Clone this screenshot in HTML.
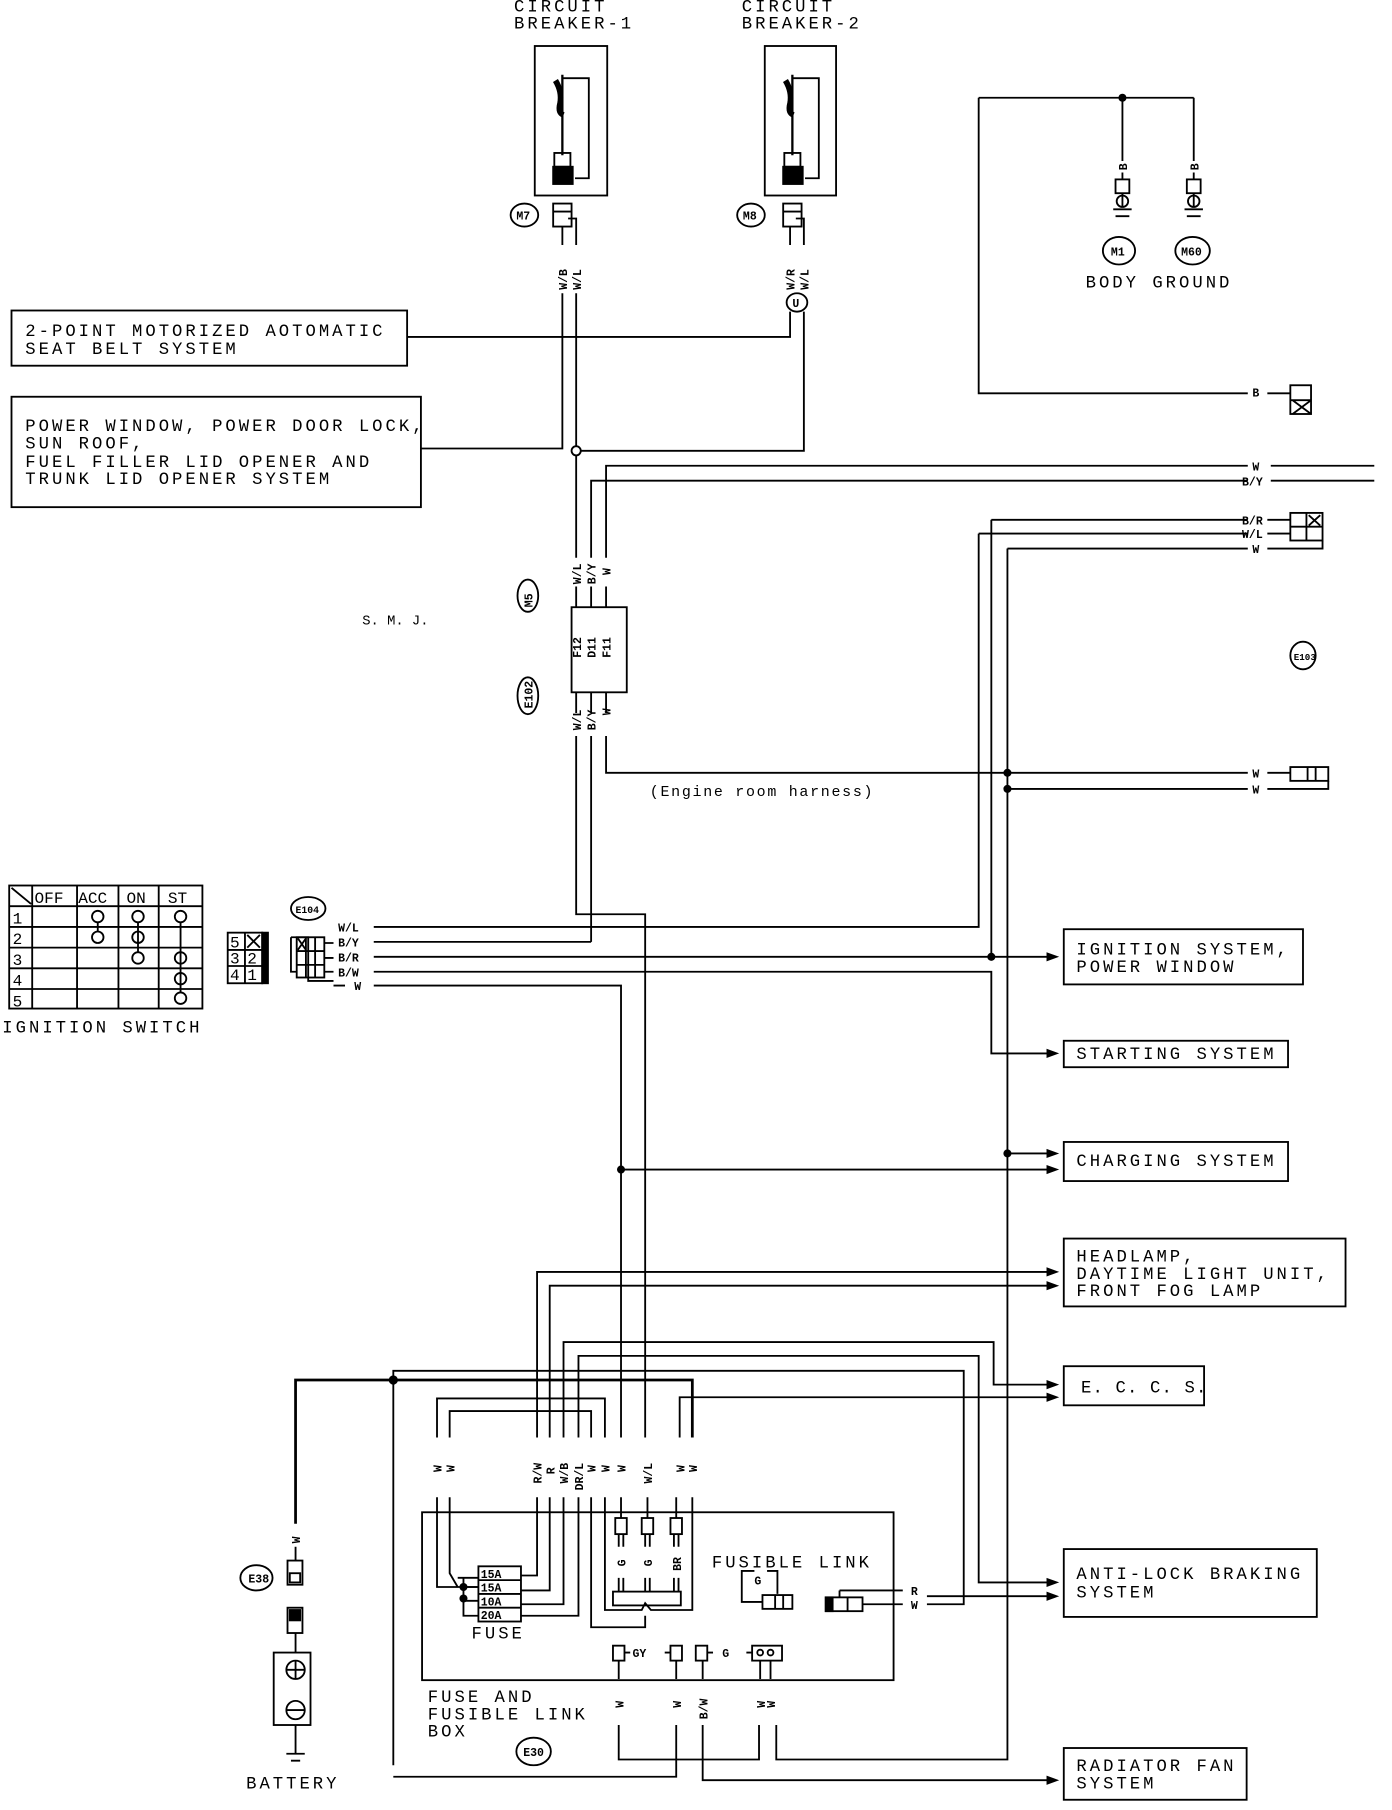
<!DOCTYPE html>
<html><head><meta charset="utf-8"><style>
html,body{margin:0;padding:0;background:#fff}
svg{display:block}
text{font-family:"Liberation Mono","DejaVu Sans Mono",monospace;fill:#000}
.t{font-size:15px;letter-spacing:2.6px}
.s{font-size:10px;font-weight:bold}
</style></head><body>
<svg width="1392" height="1810" viewBox="0 0 1210.4 1573.9" preserveAspectRatio="none" xmlns="http://www.w3.org/2000/svg">
<g fill="none" stroke="#000" stroke-width="1.6">
<rect x="465" y="40" width="63" height="130"/>
<rect x="665" y="40" width="62" height="130"/>
<path d="M489 68 H512 V155 H500"/><path d="M689 68 H712 V155 H700"/>
<path d="M489 65 V135" stroke-width="2"/><path d="M689 65 V135" stroke-width="2"/>
<path d="M483 70 Q489 80 487 90 Q485 98 490 100" stroke-width="5"/>
<path d="M683 70 Q689 80 687 90 Q685 98 690 100" stroke-width="5"/>
<rect x="482" y="133" width="14" height="12"/><rect x="682" y="133" width="14" height="12"/>
<rect x="481" y="145" width="17" height="15" fill="#000"/><rect x="681" y="145" width="17" height="15" fill="#000"/>
<rect x="481" y="177" width="16" height="20"/><line x1="481" y1="184" x2="497" y2="184"/>
<rect x="681" y="177" width="16" height="20"/><line x1="681" y1="184" x2="697" y2="184"/>
<ellipse cx="456" cy="187" rx="12" ry="10"/><ellipse cx="653" cy="187" rx="12" ry="10"/>
<path d="M489 197 V213 M494 190 H501 V213"/>
<path d="M687 197 V213 M692 190 H699 V213"/>
<path d="M489 255 V390 H366"/>
<path d="M501 255 V388"/><circle cx="501" cy="392" r="4"/><path d="M501 396 V485"/>
<ellipse cx="693" cy="263" rx="9" ry="8"/>
<path d="M354 293 H687 V271"/>
<path d="M505 392 H699 V271"/>
<rect x="10" y="270" width="344" height="48"/>
<rect x="10" y="345" width="356" height="96"/>
<path d="M527 485 V405 H1085 M1105 405 H1195"/>
<path d="M514 485 V418 H1085 M1105 418 H1195"/>
<path d="M501 510 V620 M514 510 V620 M527 510 V620"/>
<rect x="497" y="528" width="48" height="74" fill="#fff"/>
<ellipse cx="459" cy="518" rx="9" ry="14"/><ellipse cx="459" cy="605" rx="9" ry="16"/>
<path d="M501 640 V795 H561 V1250"/>
<path d="M514 640 V819"/>
<path d="M527 640 V672 H1085"/>
<path d="M876 686 H1085"/>
<path d="M851 85 H1038 M976 85 V140 M1038 85 V140 M976 150 V156 M1038 150 V156"/>
<rect x="970" y="156" width="12" height="12"/><rect x="1032" y="156" width="12" height="12"/>
<circle cx="976" cy="175" r="5"/><circle cx="1038" cy="175" r="5"/>
<path d="M976 168 V180 M968 182 H984 M970 188 H982 M1038 168 V180 M1030 182 H1046 M1032 188 H1044"/>
<ellipse cx="973" cy="218" rx="14" ry="12"/><ellipse cx="1037" cy="218" rx="15" ry="12"/>
<path d="M851 85 V342 H1085"/>
<path d="M1102 342 H1122"/><rect x="1122" y="335" width="18" height="25"/><path d="M1122 348 H1140 M1124 348 L1140 360 M1140 348 L1124 360"/>
<path d="M862 452 H1085 M851 464 H1085 M876 477 H1085 M1102 452 H1122 M1102 464 H1122 M1102 477 H1150 V470"/>
<rect x="1122" y="446" width="28" height="24"/><path d="M1136 446 V470 M1122 458 H1150 M1138 448 L1148 457 M1148 448 L1138 457"/>
<ellipse cx="1133" cy="570" rx="11" ry="12"/>
<path d="M1102 672 H1122 M1102 686 H1155 V679"/><rect x="1122" y="667" width="33" height="12"/><path d="M1137 667 V679 M1144 667 V679"/>
<path d="M851 464 V806 H325"/>
<path d="M862 452 V832"/>
<path d="M876 477 V1530 H675 V1500"/>
<path d="M325 819 H514"/>
<path d="M325 832 H912"/>
<path d="M325 845 H862 V916 H912"/>
<path d="M325 857 H540 V1250"/>
<path d="M540 1017 H912"/>
<path d="M876 1003 H912"/>
<rect x="8" y="770" width="168" height="107"/>
<path d="M8 788 H176 M8 806 H176 M8 824 H176 M8 842 H176 M8 860 H176 M28 770 V877 M67 770 V877 M103 770 V877 M138 770 V877 M10 772 L27 786"/>
<circle cx="85" cy="797" r="5"/><circle cx="85" cy="815" r="5"/><path d="M85 802 V810"/>
<circle cx="120" cy="797" r="5"/><circle cx="120" cy="815" r="5"/><circle cx="120" cy="833" r="5"/><path d="M120 802 V828"/>
<circle cx="157" cy="797" r="5"/><circle cx="157" cy="833" r="5"/><circle cx="157" cy="851" r="5"/><circle cx="157" cy="868" r="5"/><path d="M157 802 V863"/>
<rect x="198" y="811" width="30" height="44"/><path d="M198 826 H228 M198 840 H228 M213 811 V855 M215 813 L226 824 M226 813 L215 824"/>
<rect x="228" y="811" width="5" height="44" fill="#000"/>
<ellipse cx="268" cy="790" rx="15" ry="10"/>
<path d="M253 815 H268 V853 H290 M253 815 V845 H258"/>
<rect x="258" y="815" width="24" height="35"/><path d="M258 827 H282 M258 839 H282 M266 815 V850 M274 815 V850 M259 816 L266 826 M266 816 L259 826"/>
<path d="M282 820 H290 M282 833 H290 M282 845 H290 M290 857 H300"/>
<rect x="925" y="808" width="208" height="48"/>
<rect x="925" y="905" width="195" height="23"/>
<rect x="925" y="993" width="195" height="34"/>
<rect x="925" y="1077" width="245" height="59"/>
<rect x="925" y="1188" width="122" height="34"/>
<rect x="925" y="1347" width="220" height="59"/>
<rect x="925" y="1520" width="159" height="45"/>
<path d="M467 1250 V1106 H912 M478 1250 V1118 H912"/>
<path d="M490 1250 V1167 H864 V1204 H912"/>
<path d="M503 1250 V1179 H851 V1376 H912"/>
<path d="M342 1535 V1192 H838 V1395 H806"/>
<path d="M591 1250 V1215 H912"/>
<path d="M257 1325 V1200 H602 V1250" stroke-width="2.4"/>
<path d="M380 1250 V1216 H526 V1250 M391 1250 V1227 H514 V1250"/>
<path d="M806 1388 H912"/>
<path d="M380 1302 V1380 H416 M391 1302 V1368 L398 1380"/>
<path d="M467 1302 V1370 H453 M478 1302 V1383 H453 M490 1302 V1395 H453 M503 1302 V1405 H453"/>
<path d="M403 1372 V1405 H416 M403 1380 H416 M403 1392 H416 M398 1372 H416"/>
<path d="M514 1302 V1415 H561 V1405 M526 1302 V1400 H558 L561 1394 L566 1400 H602 V1302"/>
<path d="M540 1302 V1320 M563 1302 V1320 M588 1302 V1320"/>
<rect x="535" y="1320" width="10" height="14"/><rect x="558" y="1320" width="10" height="14"/><rect x="583" y="1320" width="10" height="14"/>
<path d="M538 1334 V1345 M542 1334 V1345 M561 1334 V1345 M565 1334 V1345 M586 1334 V1345 M590 1334 V1345 M538 1372 V1384 M542 1372 V1384 M561 1372 V1384 M565 1372 V1384 M586 1372 V1384 M590 1372 V1384"/>
<rect x="533" y="1384" width="59" height="12"/>
<rect x="416" y="1362" width="37" height="48"/><path d="M416 1374 H453 M416 1386 H453 M416 1398 H453"/>
<rect x="367" y="1315" width="410" height="146"/>
<path d="M645 1378 V1366 H656 M667 1366 H676 V1386 M645 1378 V1393 H663"/>
<rect x="663" y="1387" width="26" height="12"/><path d="M674 1387 V1399 M681 1387 V1399"/>
<rect x="718" y="1389" width="32" height="12"/><rect x="718" y="1389" width="6" height="12" fill="#000"/><path d="M737 1389 V1401 M730 1383 H745 M730 1383 V1389 M750 1395 H785 M745 1383 H785"/>
<rect x="533" y="1431" width="10" height="13"/><rect x="583" y="1431" width="10" height="13"/><rect x="605" y="1431" width="10" height="13"/><rect x="654" y="1431" width="26" height="13"/>
<path d="M543 1437 H548 M578 1437 H583 M615 1437 H620 M649 1437 H654"/>
<circle cx="661" cy="1437" r="2.5"/><circle cx="670" cy="1437" r="2.5"/>
<path d="M538 1444 V1460 M588 1444 V1460 M611 1444 V1460 M661 1444 V1460 M670 1444 V1460"/>
<path d="M538 1500 V1530 H660 V1500 M588 1500 V1545 H342 M611 1500 V1548 H912"/>
<ellipse cx="464" cy="1523" rx="15" ry="12"/>
<path d="M257 1345 V1357"/>
<rect x="250" y="1357" width="13" height="21"/><rect x="252" y="1368" width="9" height="8"/>
<rect x="250" y="1398" width="13" height="22"/><rect x="252" y="1400" width="9" height="9" fill="#000"/>
<path d="M257 1420 V1437"/>
<rect x="238" y="1437" width="32" height="63"/>
<circle cx="257" cy="1452" r="8"/><path d="M249 1452 H265 M257 1444 V1460"/>
<circle cx="257" cy="1487" r="8"/><path d="M249 1487 H265"/>
<path d="M257 1500 V1525 M249 1525 H265 M253 1531 H261"/>
<ellipse cx="223" cy="1372" rx="14" ry="11"/>
</g>
<g fill="#000">
<circle cx="976" cy="85" r="3.5"/><circle cx="862" cy="832" r="3.5"/><circle cx="876" cy="672" r="3.5"/><circle cx="876" cy="686" r="3.5"/>
<circle cx="876" cy="1003" r="3.5"/><circle cx="540" cy="1017" r="3.5"/><circle cx="342" cy="1200" r="4"/><circle cx="403" cy="1380" r="3.5"/><circle cx="403" cy="1390" r="3.5"/>
</g>
<g fill="#000">
<polygon points="910,828 921,832 910,836"/><polygon points="910,912 921,916 910,920"/>
<polygon points="910,999 921,1003 910,1007"/><polygon points="910,1013 921,1017 910,1021"/>
<polygon points="910,1102 921,1106 910,1110"/><polygon points="910,1114 921,1118 910,1122"/>
<polygon points="910,1200 921,1204 910,1208"/><polygon points="910,1211 921,1215 910,1219"/>
<polygon points="910,1372 921,1376 910,1380"/><polygon points="910,1384 921,1388 910,1392"/>
<polygon points="910,1544 921,1548 910,1552"/>
</g>
<text class="t" x="447" y="10">CIRCUIT</text><text class="t" x="447" y="25">BREAKER-1</text>
<text class="t" x="645" y="10">CIRCUIT</text><text class="t" x="645" y="25">BREAKER-2</text>
<text class="s" x="449" y="191">M7</text><text class="s" x="646" y="191">M8</text>
<text class="s" x="689" y="267">U</text>
<text class="s" x="966" y="222">M1</text><text class="s" x="1027" y="222">M60</text>
<text class="t" x="944" y="250">BODY GROUND</text>
<text class="t" x="22" y="292">2-POINT MOTORIZED AOTOMATIC</text>
<text class="t" x="22" y="308">SEAT BELT SYSTEM</text>
<text class="t" x="22" y="375">POWER WINDOW, POWER DOOR LOCK,</text>
<text class="t" x="22" y="390">SUN ROOF,</text>
<text class="t" x="22" y="406">FUEL FILLER LID OPENER AND</text>
<text class="t" x="22" y="421">TRUNK LID OPENER SYSTEM</text>
<text x="315" y="543" style="font-size:12px">S. M. J.</text>
<text x="565" y="692" style="font-size:13px;letter-spacing:1.5px">(Engine room harness)</text>
<g class="s">
<text transform="translate(493,252) rotate(-90)">W/B</text><text transform="translate(505,252) rotate(-90)">W/L</text>
<text transform="translate(691,252) rotate(-90)">W/R</text><text transform="translate(703,252) rotate(-90)">W/L</text>
<text transform="translate(980,148) rotate(-90)">B</text><text transform="translate(1042,148) rotate(-90)">B</text>
<text transform="translate(505,508) rotate(-90)">W/L</text><text transform="translate(518,508) rotate(-90)">B/Y</text><text transform="translate(531,500) rotate(-90)">W</text>
<text transform="translate(505,572) rotate(-90)">F12</text><text transform="translate(518,572) rotate(-90)">D11</text><text transform="translate(531,572) rotate(-90)">F11</text>
<text transform="translate(505,635) rotate(-90)">W/L</text><text transform="translate(518,635) rotate(-90)">B/Y</text><text transform="translate(531,622) rotate(-90)">W</text>
<text transform="translate(463,528) rotate(-90)">M5</text><text transform="translate(463,616) rotate(-90)">E102</text>
<text x="1089" y="345">B</text><text x="1089" y="409">W</text><text x="1080" y="422">B/Y</text>
<text x="1080" y="456">B/R</text><text x="1080" y="468">W/L</text><text x="1089" y="481">W</text>
<text x="1089" y="676">W</text><text x="1089" y="690">W</text>
<text x="1125" y="574" style="font-size:8px">E103</text>
<text x="294" y="810">W/L</text><text x="294" y="823">B/Y</text><text x="294" y="836">B/R</text><text x="294" y="849">B/W</text><text x="308" y="861">W</text>
<text x="257" y="794" style="font-size:8.5px">E104</text>
<text transform="translate(261,1342) rotate(-90)">W</text>
<text x="216" y="1376">E38</text>
<text x="455" y="1527">E30</text>
<text transform="translate(384,1280) rotate(-90)">W</text><text transform="translate(395,1280) rotate(-90)">W</text>
<text transform="translate(471,1290) rotate(-90)">R/W</text><text transform="translate(482,1282) rotate(-90)">R</text>
<text transform="translate(494,1290) rotate(-90)">W/B</text><text transform="translate(507,1296) rotate(-90)">DR/L</text>
<text transform="translate(518,1280) rotate(-90)">W</text><text transform="translate(530,1280) rotate(-90)">W</text><text transform="translate(544,1280) rotate(-90)">W</text>
<text transform="translate(567,1290) rotate(-90)">W/L</text>
<text transform="translate(595,1280) rotate(-90)">W</text><text transform="translate(606,1280) rotate(-90)">W</text>
<text transform="translate(544,1362) rotate(-90)">G</text><text transform="translate(567,1362) rotate(-90)">G</text><text transform="translate(592,1366) rotate(-90)">BR</text>
<text x="656" y="1378">G</text>
<text x="792" y="1387">R</text><text x="792" y="1399">W</text>
<text x="550" y="1441">GY</text><text x="628" y="1441">G</text>
<text transform="translate(542,1485) rotate(-90)">W</text><text transform="translate(592,1485) rotate(-90)">W</text>
<text transform="translate(615,1495) rotate(-90)">B/W</text>
<text transform="translate(665,1485) rotate(-90)">W</text><text transform="translate(674,1485) rotate(-90)">W</text>
<text x="418" y="1372" style="font-size:10px">15A</text><text x="418" y="1384" style="font-size:10px">15A</text>
<text x="418" y="1396" style="font-size:10px">10A</text><text x="418" y="1408" style="font-size:10px">20A</text>
</g>
<g style="font-size:14px;font-family:'Liberation Mono',monospace">
<text x="30" y="785">OFF</text><text x="68" y="785">ACC</text><text x="110" y="785">ON</text><text x="146" y="785">ST</text>
<text x="11" y="803">1</text><text x="11" y="821">2</text><text x="11" y="839">3</text><text x="11" y="857">4</text><text x="11" y="875">5</text>
<text x="200" y="824">5</text><text x="200" y="838">3</text><text x="215" y="838">2</text><text x="200" y="852">4</text><text x="215" y="852">1</text>
</g>
<text class="t" x="2" y="898">IGNITION SWITCH</text>
<text class="t" x="936" y="830">IGNITION SYSTEM,</text><text class="t" x="936" y="845">POWER WINDOW</text>
<text class="t" x="936" y="921">STARTING SYSTEM</text>
<text class="t" x="936" y="1014">CHARGING SYSTEM</text>
<text class="t" x="936" y="1097">HEADLAMP,</text><text class="t" x="936" y="1112">DAYTIME LIGHT UNIT,</text><text class="t" x="936" y="1127">FRONT FOG LAMP</text>
<text x="940" y="1211" style="font-size:15px;letter-spacing:1px">E. C. C. S.</text>
<text class="t" x="936" y="1373">ANTI-LOCK BRAKING</text><text class="t" x="936" y="1389">SYSTEM</text>
<text class="t" x="936" y="1540">RADIATOR FAN</text><text class="t" x="936" y="1555">SYSTEM</text>
<text class="t" x="619" y="1363">FUSIBLE LINK</text>
<text class="t" x="410" y="1425">FUSE</text>
<text class="t" x="372" y="1480">FUSE AND</text><text class="t" x="372" y="1495">FUSIBLE LINK</text><text class="t" x="372" y="1510">BOX</text>
<text class="t" x="214" y="1555">BATTERY</text>
</svg>
</body></html>
